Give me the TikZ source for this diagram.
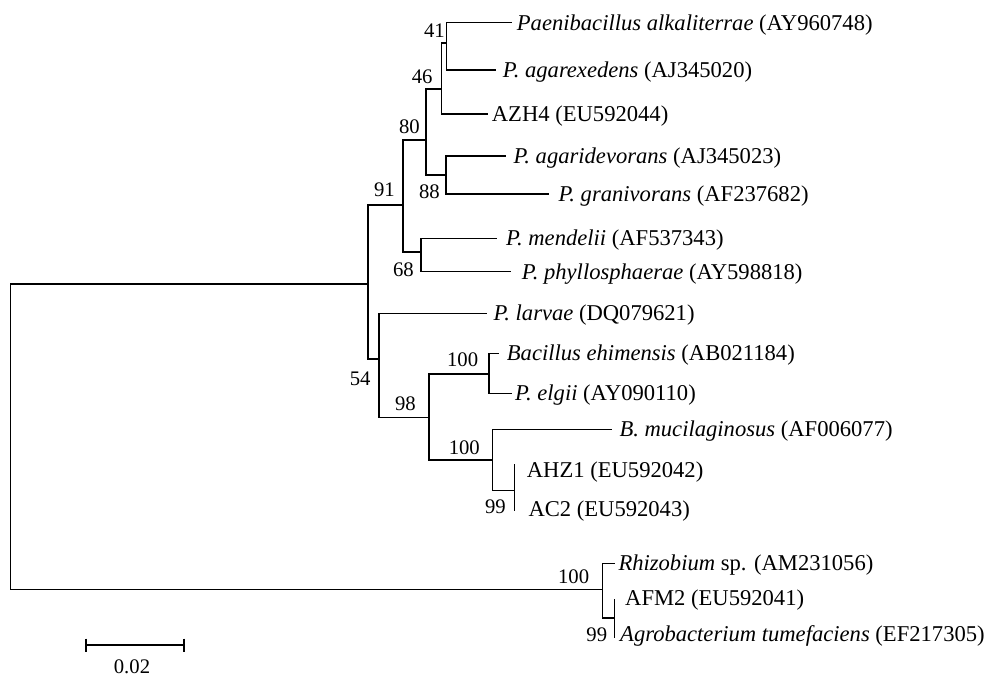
\documentclass[tikz,border=0pt]{standalone}
\usepackage{fontspec}
\setmainfont{Liberation Serif}
\begin{document}
\begin{tikzpicture}[x=1pt,y=-1pt,
  branch/.style={draw=black,line width=1.3pt,line cap=rect},
  leaf/.style={anchor=west,inner sep=0pt,text height=15pt,text depth=0pt,font=\fontsize{22.6}{27}\selectfont},
  bs/.style={anchor=base east,inner sep=0pt,font=\fontsize{20.7}{25}\selectfont}]
\useasboundingbox (0,0) rectangle (1000,682);
\fill[white] (0,0) rectangle (1000,682);
% leaf tips
\coordinate (tPaen) at (511.7,22.7);
\coordinate (tAgarex) at (495,70);
\coordinate (tAZH) at (487,114);
\coordinate (tAgarid) at (505,156);
\coordinate (tGrani) at (548.3,194);
\coordinate (tMend) at (496.7,238.3);
\coordinate (tPhyl) at (510,271.7);
\coordinate (tLarv) at (486.7,313.3);
\coordinate (tBac) at (498.3,353.3);
\coordinate (tElg) at (511.7,393.3);
\coordinate (tMuc) at (611.7,429.3);
\coordinate (tAHZ) at (514.3,465);
\coordinate (tAC) at (514.3,510.7);
\coordinate (tRhiz) at (614,563.3);
\coordinate (tAFM) at (614.3,600);
\coordinate (tAgro) at (614.3,637);
% internal nodes
\coordinate (n41) at (446.7,43);
\coordinate (n46) at (441.7,89);
\coordinate (n88) at (446,175);
\coordinate (n80) at (426,140);
\coordinate (n68) at (421,252);
\coordinate (n91) at (403,205);
\coordinate (nB) at (489,374);
\coordinate (n99a) at (514.3,490.7);
\coordinate (nM) at (492.3,460);
\coordinate (n98) at (429,417.7);
\coordinate (n54) at (379,359);
\coordinate (nA) at (368,284);
\coordinate (n99b) at (614.3,618);
\coordinate (nO) at (602.3,589.3);
\coordinate (root) at (10.7,436);
% branches
\path[branch] (tPaen) -| (n41) |- (tAgarex);
\path[branch] (n41) -| (n46) |- (tAZH);
\path[branch] (tAgarid) -| (n88) |- (tGrani);
\path[branch] (n46) -| (n80) |- (n88);
\path[branch] (tMend) -| (n68) |- (tPhyl);
\path[branch] (n80) -| (n91) |- (n68);
\path[branch] (tBac) -| (nB) |- (tElg);
\path[branch] (tAHZ) -- (tAC);
\path[branch] (tMuc) -| (nM) |- (n99a);
\path[branch] (nB) -| (n98) |- (nM);
\path[branch] (tLarv) -| (n54) |- (n98);
\path[branch] (n91) -| (nA) |- (n54);
\path[branch] (tAFM) -- (tAgro);
\path[branch] (tRhiz) -| (nO) |- (n99b);
\path[branch] (nA) -| (root) |- (nO);
% leaf labels
\node[leaf] (lPaen) at (516.7,22.7) {\textit{Paenibacillus alkaliterrae} (AY960748)};
\node[leaf] (lAgarex) at (502.7,70) {\textit{P. agarexedens} (AJ345020)};
\node[leaf] (lAZH) at (491.7,114) {AZH4 (EU592044)};
\node[leaf] (lAgarid) at (513.3,156) {\textit{P. agaridevorans} (AJ345023)};
\node[leaf] (lGrani) at (558.3,194) {\textit{P. granivorans} (AF237682)};
\node[leaf] (lMend) at (506,238.3) {\textit{P. mendelii} (AF537343)};
\node[leaf] (lPhyl) at (521.7,271.7) {\textit{P. phyllosphaerae} (AY598818)};
\node[leaf] (lLarv) at (493.3,313.3) {\textit{P. larvae} (DQ079621)};
\node[leaf] (lBac) at (506.7,353.3) {\textit{Bacillus ehimensis} (AB021184)};
\node[leaf] (lElg) at (515,393.3) {\textit{P. elgii} (AY090110)};
\node[leaf] (lMuc) at (619.3,429.3) {\textit{B. mucilaginosus} (AF006077)};
\node[leaf] (lAHZ) at (526.7,469.5) {AHZ1 (EU592042)};
\node[leaf] (lAC) at (528.3,509) {AC2 (EU592043)};
\node[leaf] (lRhiz) at (618.3,563.3) {\textit{Rhizobium} sp. (AM231056)};
\node[leaf] (lAFM) at (625,597.5) {AFM2 (EU592041)};
\node[leaf] (lAgro) at (620,634) {\textit{Agrobacterium tumefaciens} (EF217305)};
% bootstrap values
\node[bs] (b41) at (445,38) {41};
\node[bs] (b46) at (432.7,83.3) {46};
\node[bs] (b80) at (420,133.3) {80};
\node[bs] (b91) at (395,196.7) {91};
\node[bs] (b88) at (440,198.3) {88};
\node[bs] (b68) at (414,276.7) {68};
\node[bs] (b54) at (370.7,385) {54};
\node[bs] (b98) at (416,410) {98};
\node[bs] (bB) at (478.3,366.7) {100};
\node[bs] (bM) at (480,454) {100};
\node[bs] (b99a) at (506,513.3) {99};
\node[bs] (bO) at (589.3,583.3) {100};
\node[bs] (b99b) at (607.3,641.7) {99};
% scale bar
\coordinate (sb1) at (86,645);
\coordinate (sb2) at (184,645);
\path[branch,line cap=butt] (sb1) -- (sb2);
\path[branch,line cap=butt] ([yshift=6.5pt]sb1) -- ([yshift=-6.5pt]sb1);
\path[branch,line cap=butt] ([yshift=6.5pt]sb2) -- ([yshift=-6.5pt]sb2);
\node[bs,anchor=base] (sblab) at (132,673) {0.02};
\end{tikzpicture}
\end{document}
